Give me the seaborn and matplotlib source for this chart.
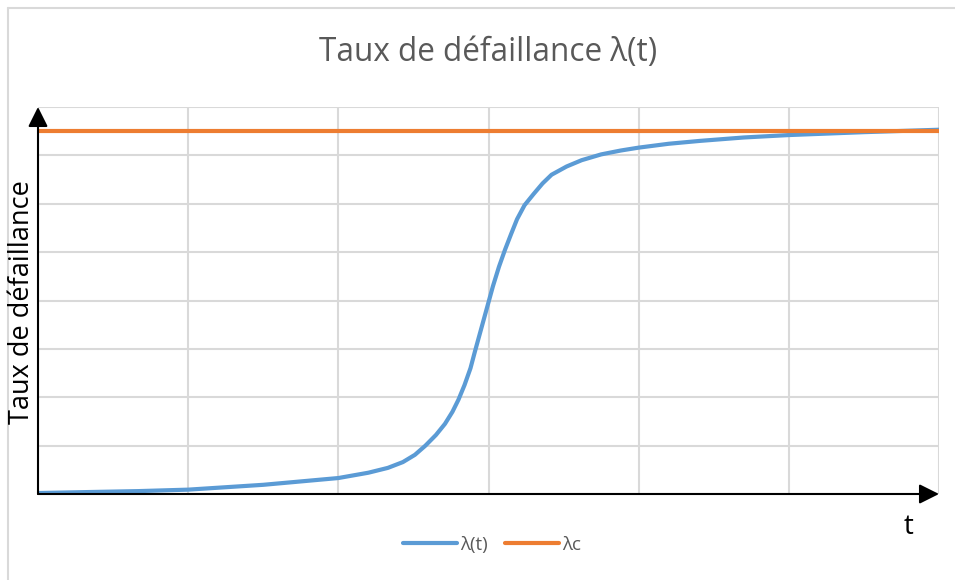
import matplotlib
matplotlib.use('Agg')
import pandas as pd
import seaborn as sns
import matplotlib.pyplot as plt
from matplotlib.lines import Line2D

sns.set_style('white')
plt.rcParams['font.family'] = ['Open Sans', 'DejaVu Sans']

# valeurs (t et taux en unités de grille)
t_vals = [0.0, 0.33, 0.67, 1.0, 1.5, 2.0, 2.2, 2.33, 2.43, 2.51, 2.58, 2.65, 2.71,
          2.76, 2.8, 2.84, 2.88, 2.91, 2.95, 2.99, 3.03, 3.07, 3.11, 3.15,
          3.19, 3.24, 3.3, 3.36, 3.42, 3.52, 3.62, 3.75, 3.88, 4.0, 4.2,
          4.41, 4.7, 5.0, 5.5, 6.0]
lambda_t = [0.02, 0.04, 0.06, 0.09, 0.19, 0.33, 0.44, 0.54, 0.66, 0.81, 1.0, 1.22, 1.45,
            1.7, 1.95, 2.25, 2.6, 2.95, 3.4, 3.85, 4.3, 4.7, 5.05, 5.37,
            5.68, 5.97, 6.2, 6.42, 6.6, 6.77, 6.9, 7.02, 7.1, 7.16, 7.24,
            7.3, 7.37, 7.42, 7.48, 7.53]
lambda_c = 7.5

df = pd.DataFrame({'t': t_vals, 'lambda': lambda_t})
df_c = pd.DataFrame({'t': [0.0, 6.0], 'lambda': [lambda_c, lambda_c]})

blue = '#5B9BD5'
orange = '#ED7D31'
gris = '#595959'

fig = plt.figure(figsize=(9.55, 5.8), dpi=100)
ax = fig.add_axes([38 / 955, 1 - 494 / 580, (939 - 38) / 955, (494 - 107) / 580])

sns.lineplot(data=df, x='t', y='lambda', ax=ax, color=blue, lw=3, sort=False,
             solid_joinstyle='round', solid_capstyle='round')
sns.lineplot(data=df_c, x='t', y='lambda', ax=ax, color=orange, lw=3, zorder=4)

ax.set_xlim(0, 6)
ax.set_ylim(0, 8)
ax.set_xticks(range(0, 7))
ax.set_yticks(range(0, 9))
ax.grid(True, color='#d9d9d9', lw=1.5)
ax.tick_params(length=0, labelbottom=False, labelleft=False)
for s in ax.spines.values():
    s.set_visible(False)
ax.set_xlabel('')
ax.set_ylabel('')

# axes avec flèches
for tip in [(0, 1.0), (1.0, 0)]:
    ax.annotate('', xy=tip, xytext=(0, 0), xycoords='axes fraction',
                arrowprops=dict(arrowstyle='-|>', color='black', lw=1.5,
                                mutation_scale=30, shrinkA=0, shrinkB=0), zorder=6)

# textes
fig.text(488 / 955, 1 - 52 / 580, 'Taux de défaillance λ(t)', ha='center', va='center',
         fontsize=22.7, color=gris)
fig.text(22 / 955, 1 - 302 / 580, 'Taux de défaillance', ha='center', va='center',
         rotation=90, fontsize=19.5, color='black')
fig.text(909 / 955, 1 - 527 / 580, 't', ha='center', va='center', fontsize=20, color='black')

handles = [Line2D([], [], color=blue, lw=3), Line2D([], [], color=orange, lw=3)]
leg = fig.legend(handles, ['λ(t)', 'λc'], loc='center', bbox_to_anchor=(492 / 955, 1 - 545 / 580),
                 ncol=2, frameon=False, fontsize=13.5, handlelength=2.9, columnspacing=0.9,
                 handletextpad=0.15)
for txt in leg.get_texts():
    txt.set_color(gris)

# cadre du graphique
fig.add_artist(Line2D([8 / 955, 8 / 955], [0, 1 - 8 / 580], color='#d9d9d9', lw=1.5,
                      transform=fig.transFigure))
fig.add_artist(Line2D([8 / 955, 1], [1 - 8 / 580, 1 - 8 / 580], color='#d9d9d9', lw=1.5,
                      transform=fig.transFigure))

fig.savefig('out.png', dpi=100)
